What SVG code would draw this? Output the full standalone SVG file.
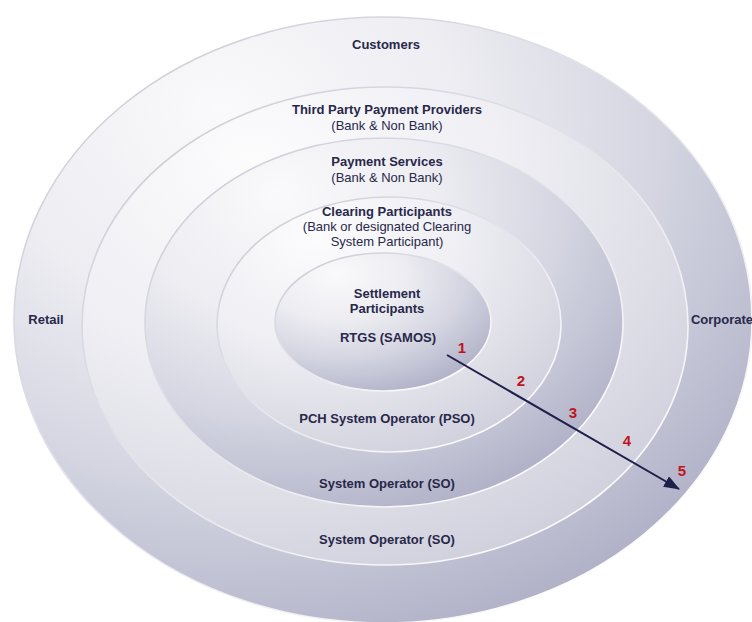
<svg xmlns="http://www.w3.org/2000/svg" width="752" height="622" viewBox="0 0 752 622">
  <defs>
    <!-- shading for the darker rings -->
    <radialGradient id="shadeDeep" cx="0.3" cy="0.2" r="0.9" fx="0.28" fy="0.15">
      <stop offset="0" stop-color="#fafafc"/>
      <stop offset="0.35" stop-color="#ededf2"/>
      <stop offset="0.65" stop-color="#d4d5e1"/>
      <stop offset="1" stop-color="#acadc4"/>
    </radialGradient>
    <!-- shading for the paler rings -->
    <radialGradient id="shadePale" cx="0.3" cy="0.2" r="0.9" fx="0.28" fy="0.15">
      <stop offset="0" stop-color="#fcfcfd"/>
      <stop offset="0.45" stop-color="#efeff4"/>
      <stop offset="0.75" stop-color="#dedee7"/>
      <stop offset="1" stop-color="#cdcedb"/>
    </radialGradient>
    <!-- rim line: grey on the lit side, white on the shaded side -->
    <linearGradient id="rim" x1="0.1" y1="0.05" x2="0.9" y2="0.95">
      <stop offset="0" stop-color="#cbccd6"/>
      <stop offset="0.5" stop-color="#e6e6ec"/>
      <stop offset="1" stop-color="#ffffff"/>
    </linearGradient>
    <marker id="arrowHead" viewBox="0 0 16 12" refX="15" refY="6" markerWidth="16" markerHeight="12" markerUnits="userSpaceOnUse" orient="auto">
      <path d="M0,0 L16,6 L0,12 Z" fill="#1f1f4b"/>
    </marker>
    <style>
      .ring { stroke: url(#rim); stroke-width: 1.6; }
      .deep { fill: url(#shadeDeep); }
      .pale { fill: url(#shadePale); }
      .lbl { font-family: "Liberation Sans", Arial, sans-serif; font-size: 13px; fill: #28284a; text-anchor: middle; }
      .b { font-weight: bold; }
      .step { font-family: "Liberation Sans", Arial, sans-serif; font-size: 15px; font-weight: bold; fill: #c0141c; text-anchor: middle; }
      .flow { stroke: #1f1f4b; stroke-width: 2; fill: none; }
    </style>
  </defs>

  <rect width="752" height="622" fill="#ffffff"/>

  <g id="customers">
    <ellipse class="ring deep" cx="383" cy="320" rx="369" ry="303"/>
    <text class="lbl b" x="386" y="49">Customers</text>
  </g>

  <g id="retail">
    <text class="lbl b" x="46" y="324">Retail</text>
  </g>

  <g id="corporate">
    <text class="lbl b" x="722" y="324">Corporate</text>
  </g>

  <g id="third-party-providers">
    <ellipse class="ring pale" cx="385" cy="326" rx="303" ry="239"/>
    <text class="lbl b" x="387" y="114">Third Party Payment Providers</text>
    <text class="lbl" x="387" y="130">(Bank &amp; Non Bank)</text>
    <text class="lbl b" x="387" y="544">System Operator (SO)</text>
  </g>

  <g id="payment-services">
    <ellipse class="ring deep" cx="384" cy="322.5" rx="239" ry="184.5"/>
    <text class="lbl b" x="387" y="166">Payment Services</text>
    <text class="lbl" x="387" y="182">(Bank &amp; Non Bank)</text>
    <text class="lbl b" x="387" y="488">System Operator (SO)</text>
  </g>

  <g id="clearing-participants">
    <ellipse class="ring pale" cx="389" cy="324.5" rx="172" ry="127.5"/>
    <text class="lbl b" x="387" y="216">Clearing Participants</text>
    <text class="lbl" x="387" y="231">(Bank or designated Clearing</text>
    <text class="lbl" x="387" y="246">System Participant)</text>
    <text class="lbl b" x="387" y="423">PCH System Operator (PSO)</text>
  </g>

  <g id="settlement-participants">
    <ellipse class="ring deep" cx="383" cy="322" rx="108" ry="69"/>
    <text class="lbl b" x="387" y="298">Settlement</text>
    <text class="lbl b" x="387" y="313">Participants</text>
    <text class="lbl b" x="388" y="342">RTGS (SAMOS)</text>
  </g>

  <g id="connectors">
    <line class="flow" x1="447" y1="355" x2="679" y2="489" marker-end="url(#arrowHead)"/>
  </g>

  <g id="steps">
    <text class="step" x="462" y="353">1</text>
    <text class="step" x="521" y="386">2</text>
    <text class="step" x="573" y="418">3</text>
    <text class="step" x="627" y="446">4</text>
    <text class="step" x="682" y="476">5</text>
  </g>
</svg>
